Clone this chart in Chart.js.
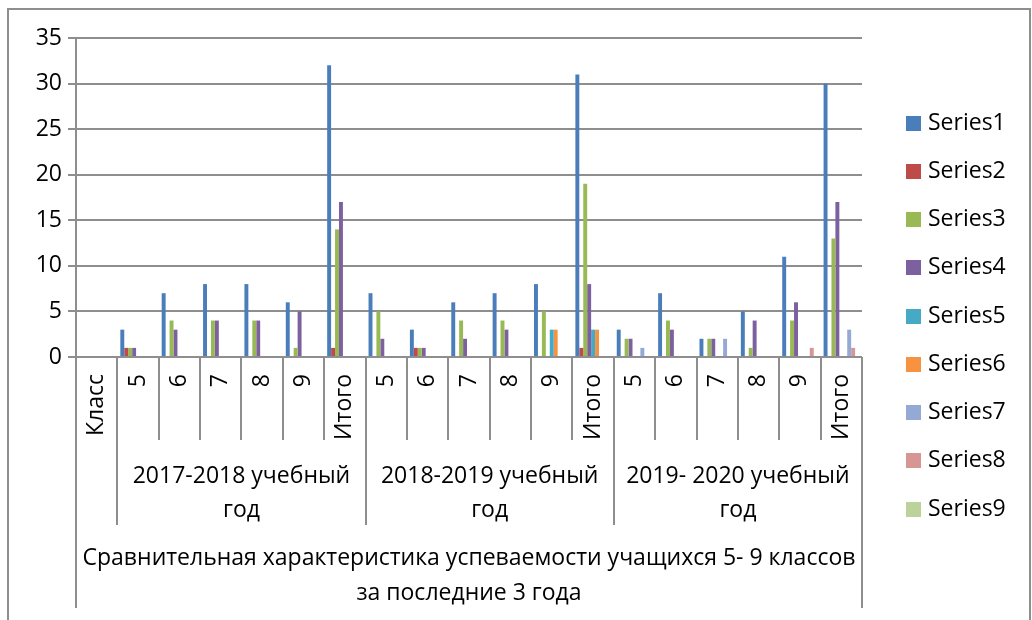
<!DOCTYPE html>
<html>
<head>
<meta charset="utf-8">
<script src="https://cdn.jsdelivr.net/npm/chart.js@4.4.1/dist/chart.umd.min.js"></script>
<style>
    html, body { margin: 0; padding: 0; background: #fff; }
    #wrap { width: 1032px; height: 620px; }
</style>
</head>
<body>
<div id="wrap"><canvas id="myChart" width="1032" height="620"></canvas></div>
<script>
// first level of the category axis (rotated labels)
var classes = ['Класс', '5', '6', '7', '8', '9', 'Итого', '5', '6', '7', '8', '9', 'Итого', '5', '6', '7', '8', '9', 'Итого'];
// second level: school years, each spans 6 classes (after "Класс")
var yearLabels = [['2017-2018 учебный', 'год'], ['2018-2019 учебный', 'год'], ['2019- 2020 учебный', 'год']];
var yearSpan = [6, 6, 6];
// third level: the whole axis
var titleLines = ['Сравнительная характеристика успеваемости учащихся 5- 9 классов', 'за последние 3 года'];

var yTicks = [0, 5, 10, 15, 20, 25, 30, 35];

var seriesNames = ['Series1', 'Series2', 'Series3', 'Series4', 'Series5', 'Series6', 'Series7', 'Series8', 'Series9'];
var seriesColors = ['#4A7EBB', '#BE4B48', '#98B954', '#7D60A0', '#46AAC5', '#F69240', '#94A9D3', '#D69694', '#BBD39B'];

var series1 = [0, 3, 7, 8, 8, 6, 32, 7, 3, 6, 7, 8, 31, 3, 7, 2, 5, 11, 30];
var series2 = [0, 1, 0, 0, 0, 0, 1, 0, 1, 0, 0, 0, 1, 0, 0, 0, 0, 0, 0];
var series3 = [0, 1, 4, 4, 4, 1, 14, 5, 1, 4, 4, 5, 19, 2, 4, 2, 1, 4, 13];
var series4 = [0, 1, 3, 4, 4, 5, 17, 2, 1, 2, 3, 0, 8, 2, 3, 2, 4, 6, 17];
var series5 = [0, 0, 0, 0, 0, 0, 0, 0, 0, 0, 0, 3, 3, 0, 0, 0, 0, 0, 0];
var series6 = [0, 0, 0, 0, 0, 0, 0, 0, 0, 0, 0, 3, 3, 0, 0, 0, 0, 0, 0];
var series7 = [0, 0, 0, 0, 0, 0, 0, 0, 0, 0, 0, 0, 0, 1, 0, 2, 0, 0, 3];
var series8 = [0, 0, 0, 0, 0, 0, 0, 0, 0, 0, 0, 0, 0, 0, 0, 0, 0, 1, 1];
var series9 = [0, 0, 0, 0, 0, 0, 0, 0, 0, 0, 0, 0, 0, 0, 0, 0, 0, 0, 0];

var allSeries = [series1, series2, series3, series4, series5, series6, series7, series8, series9];

var fontFamily = '"Open Sans", "Noto Sans", sans-serif';
var fontSize = 23;
var lineColor = '#8e8e8e';

var datasets = allSeries.map(function(d, i) {
    return {
        label: seriesNames[i],
        data: d,
        backgroundColor: seriesColors[i],
        borderWidth: 0,
        categoryPercentage: 9 / 10.5,
        barPercentage: 1
    };
});

// draws the 3-level category axis, the legend and the frame
var multiAxis = {
    id: 'multiAxis',
    afterDraw: function(chart) {
        var ctx = chart.ctx;
        var xs = chart.scales.x;
        var area = chart.chartArea;
        var n = classes.length;
        var step = (area.right - area.left) / n;
        var base = area.bottom;

        ctx.save();
        ctx.strokeStyle = lineColor;
        ctx.lineWidth = 2;

        // separators
        var groupEdges = [1];
        var acc = 1;
        yearSpan.forEach(function(s) { acc += s; groupEdges.push(acc); });
        for (var i = 0; i <= n; i++) {
            var ex = Math.round(xs.getPixelForValue(Math.min(i, n - 1)) + (i < n ? -step / 2 : step / 2));
            var end = base + 83;
            if (i === 0 || i === n) end = 608;
            else if (groupEdges.indexOf(i) >= 0) end = base + 168;
            ctx.beginPath();
            ctx.moveTo(ex, base);
            ctx.lineTo(ex, end);
            ctx.stroke();
        }
        // extend y axis line below the plot
        ctx.beginPath();
        ctx.moveTo(Math.round(area.left), base);
        ctx.lineTo(Math.round(area.left), 608);
        ctx.stroke();

        ctx.fillStyle = '#000';
        ctx.font = fontSize + 'px ' + fontFamily;

        // level 1: rotated class labels
        classes.forEach(function(c, i) {
            var cx = xs.getPixelForValue(i);
            ctx.save();
            ctx.translate(cx, base + 17);
            ctx.rotate(-Math.PI / 2);
            ctx.textAlign = 'right';
            ctx.textBaseline = 'middle';
            ctx.fillText(c, 0, 0);
            ctx.restore();
        });

        // level 2: years
        ctx.textAlign = 'center';
        ctx.textBaseline = 'middle';
        var start = 1;
        yearLabels.forEach(function(lines, g) {
            var x0 = xs.getPixelForValue(start) - step / 2;
            var x1 = xs.getPixelForValue(start + yearSpan[g] - 1) + step / 2;
            lines.forEach(function(t, k) {
                ctx.fillText(t, (x0 + x1) / 2, base + 119 + k * 34);
            });
            start += yearSpan[g];
        });

        // level 3: whole axis title
        titleLines.forEach(function(t, k) {
            ctx.fillText(t, (area.left + area.right) / 2, base + 201 + k * 35);
        });

        // legend
        ctx.textAlign = 'left';
        chart.data.datasets.forEach(function(ds, i) {
            var cy = 123 + i * 48.25;
            ctx.fillStyle = ds.backgroundColor;
            ctx.fillRect(906, Math.round(cy - 7.5), 15, 15);
            ctx.fillStyle = '#000';
            ctx.fillText(ds.label, 928, cy);
        });

        // chart frame
        ctx.strokeStyle = lineColor;
        ctx.beginPath();
        ctx.moveTo(8, 620);
        ctx.lineTo(8, 9);
        ctx.lineTo(1030, 9);
        ctx.lineTo(1030, 620);
        ctx.stroke();
        ctx.restore();
    }
};

var ctx = document.getElementById('myChart').getContext('2d');
var myChart = new Chart(ctx, {
    type: 'bar',
    data: {
        labels: classes,
        datasets: datasets
    },
    options: {
        responsive: false,
        animation: false,
        devicePixelRatio: 1,
        layout: {
            padding: { top: 38, right: 170, bottom: 263, left: 0 }
        },
        plugins: {
            legend: { display: false },
            tooltip: { enabled: false }
        },
        scales: {
            x: {
                display: false
            },
            y: {
                min: 0,
                max: 35,
                afterBuildTicks: function(scale) {
                    scale.ticks = yTicks.map(function(v) { return { value: v }; });
                },
                afterFit: function(scale) {
                    scale.width = 76;
                },
                ticks: {
                    color: '#000',
                    padding: 6,
                    font: { size: fontSize, family: fontFamily }
                },
                grid: {
                    color: lineColor,
                    lineWidth: 2,
                    tickLength: 8
                },
                border: {
                    color: lineColor,
                    width: 2
                }
            }
        }
    },
    plugins: [multiAxis]
});
</script>
</body>
</html>
